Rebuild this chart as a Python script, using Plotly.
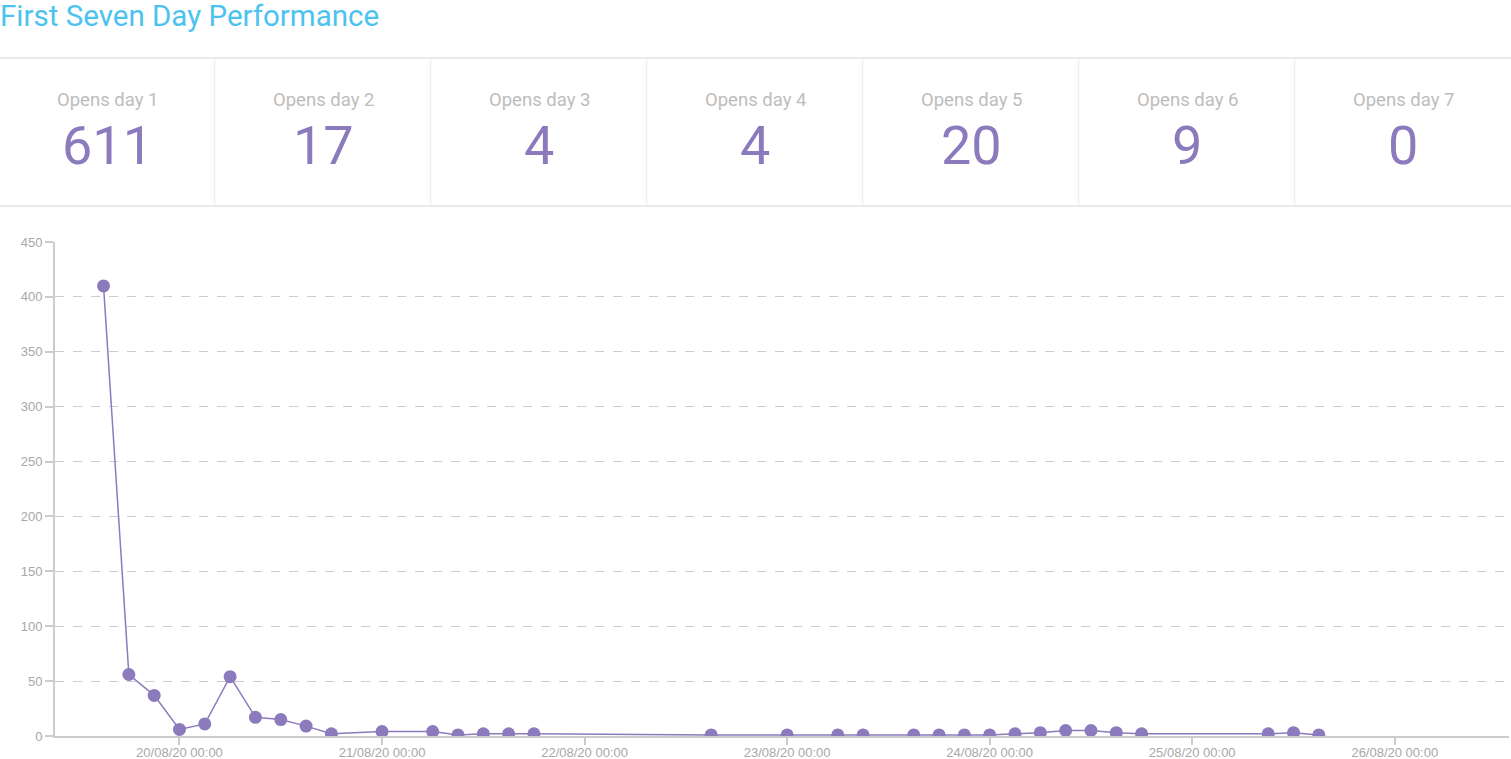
import plotly.graph_objects as go

# stat cards
day_labels = ["Opens day 1", "Opens day 2", "Opens day 3", "Opens day 4",
              "Opens day 5", "Opens day 6", "Opens day 7"]
day_opens = [611, 17, 4, 4, 20, 9, 0]

# opens per 3 hour bucket
times = ["2020-08-19 15:00", "2020-08-19 18:00", "2020-08-19 21:00",
         "2020-08-20 00:00", "2020-08-20 03:00", "2020-08-20 06:00",
         "2020-08-20 09:00", "2020-08-20 12:00", "2020-08-20 15:00",
         "2020-08-20 18:00", "2020-08-21 00:00", "2020-08-21 06:00",
         "2020-08-21 09:00", "2020-08-21 12:00", "2020-08-21 15:00",
         "2020-08-21 18:00", "2020-08-22 15:00", "2020-08-23 00:00",
         "2020-08-23 06:00", "2020-08-23 09:00", "2020-08-23 15:00",
         "2020-08-23 18:00", "2020-08-23 21:00", "2020-08-24 00:00",
         "2020-08-24 03:00", "2020-08-24 06:00", "2020-08-24 09:00",
         "2020-08-24 12:00", "2020-08-24 15:00", "2020-08-24 18:00",
         "2020-08-25 09:00", "2020-08-25 12:00", "2020-08-25 15:00"]
opens = [410, 56, 37, 6, 11, 54, 17, 15, 9, 2,
         4, 4, 1, 2, 2, 2, 1, 1, 1, 1,
         1, 1, 1, 1, 2, 3, 5, 5, 3, 2,
         2, 3, 1]

x_ticks = ["2020-08-20", "2020-08-21", "2020-08-22", "2020-08-23",
           "2020-08-24", "2020-08-25", "2020-08-26"]
y_ticks = [0, 50, 100, 150, 200, 250, 300, 350, 400, 450]

purple = "#8b7bbd"
W, H = 1511, 759
L, R, T, B = 55, 2, 242, 23


# page pixels -> paper coords (for the header bits)
def px(x):
    return (x - L) / (W - L - R)


def py(y):
    return (H - B - y) / (H - T - B)


fig = go.Figure()
fig.add_trace(go.Scatter(
    x=times, y=opens, mode="lines+markers",
    line=dict(color=purple, width=1.5),
    marker=dict(color=purple, size=13),
    showlegend=False,
))

shapes = []
annotations = []

annotations.append(dict(
    text="First Seven Day Performance", xref="paper", yref="paper",
    x=px(-2), y=py(16), xanchor="left", yanchor="middle", showarrow=False,
    font=dict(family="Roboto", size=29.5, color="#4cc3ef"),
))

# card borders
for yy in [58, 206]:
    shapes.append(dict(type="line", xref="paper", yref="paper",
                       x0=px(0), x1=px(W), y0=py(yy), y1=py(yy),
                       line=dict(color="#e8e8e8", width=2)))

card_w = 216
for i, (lab, val) in enumerate(zip(day_labels, day_opens)):
    if i > 0:
        xx = i * card_w - 1.5
        shapes.append(dict(type="line", xref="paper", yref="paper",
                           x0=px(xx), x1=px(xx), y0=py(58), y1=py(206),
                           line=dict(color="#efefef", width=1.5)))
    cx = i * card_w + card_w / 2 - 1
    annotations.append(dict(
        text=lab, xref="paper", yref="paper", x=px(cx), y=py(100),
        xanchor="center", yanchor="middle", showarrow=False,
        font=dict(family="Roboto", size=18.5, color="#bdbdbd"),
    ))
    annotations.append(dict(
        text=str(val), xref="paper", yref="paper", x=px(cx), y=py(146),
        xanchor="center", yanchor="middle", showarrow=False,
        font=dict(family="Roboto", size=54, color=purple),
    ))

fig.update_layout(
    width=W, height=H,
    margin=dict(l=L, r=R, t=T, b=B),
    paper_bgcolor="white", plot_bgcolor="white",
    shapes=shapes, annotations=annotations,
    font=dict(family="Liberation Sans", size=13, color="#a8a8a8"),
)
fig.update_xaxes(
    type="date", range=["2020-08-19 09:15", "2020-08-26 13:32"],
    tickvals=x_ticks, tickformat="%d/%m/%y %H:%M",
    showgrid=False, showline=True, linecolor="#cccccc", linewidth=2,
    ticks="outside", ticklen=7, tickcolor="#cccccc", tickwidth=1.5,
    ticklabelstandoff=-4,
    automargin=False, zeroline=False,
)
fig.update_yaxes(
    range=[0, 450], tickvals=y_ticks,
    showgrid=True, gridcolor="#cccccc", griddash="dash", gridwidth=1,
    showline=True, linecolor="#cccccc", linewidth=2,
    ticks="outside", ticklen=8, tickcolor="#cccccc", tickwidth=1.5,
    automargin=False, zeroline=False,
)

# page has an 8px body margin by default, drop it so the figure sits at 0,0
fig.write_html("out.html", config={"displayModeBar": False},
               post_script="document.body.style.margin='0';")
